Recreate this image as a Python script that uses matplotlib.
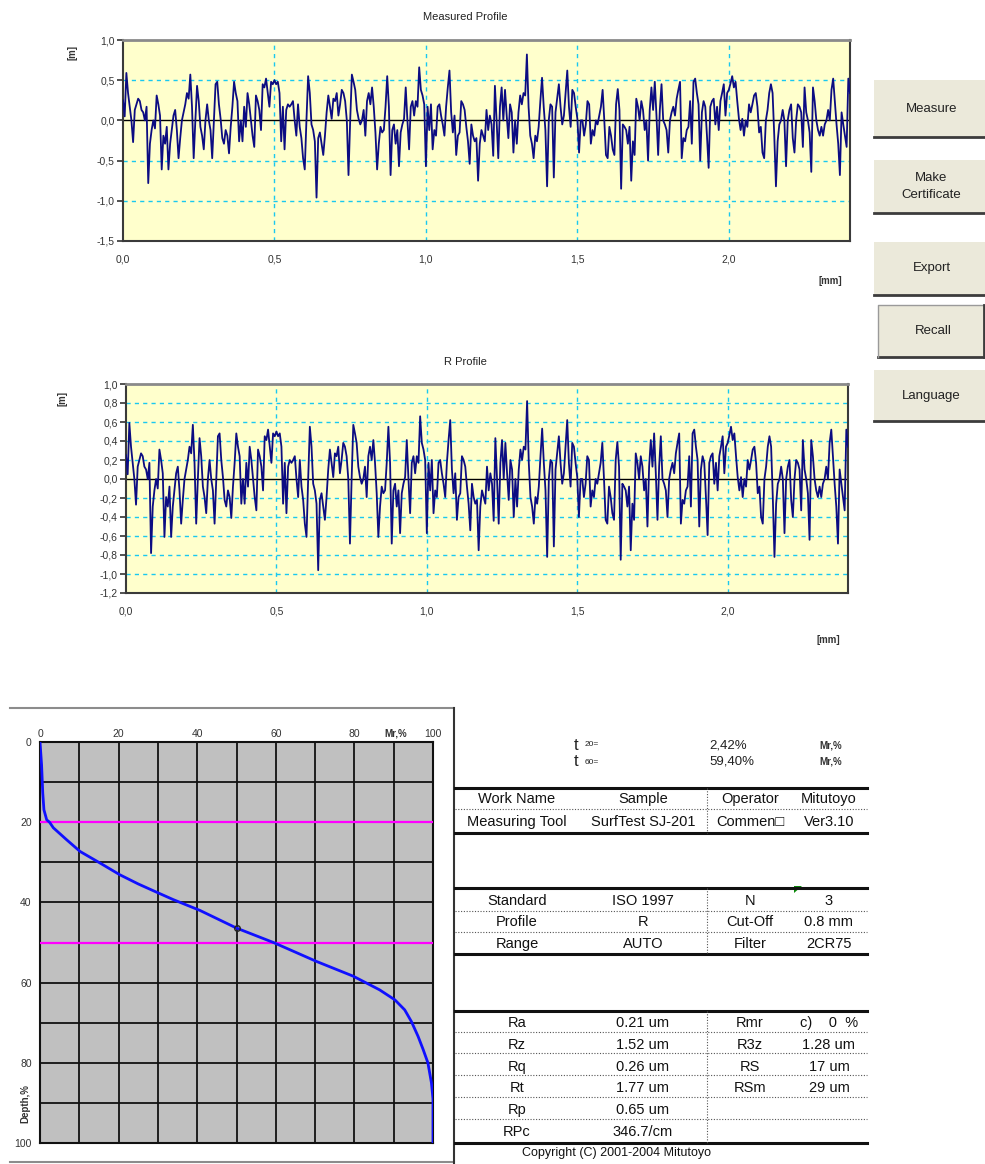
import numpy as np
import matplotlib

matplotlib.use("Agg")
import matplotlib.pyplot as plt
from matplotlib.patches import Rectangle, Polygon
from matplotlib.ticker import FuncFormatter

plt.rcParams["font.family"] = ["Liberation Sans", "DejaVu Sans"]

W, H = 985, 1164

# roughness profile over the 2.4 mm evaluation length (um), evenly spaced
r_profile = [
    # 0.00 - 0.39 mm
    0.25, 0.05, 0.59, 0.34, 0.17, 0.0, -0.27, 0.13, 0.2, 0.27,
    0.24, 0.13, 0.1, 0.0, 0.17, -0.78, -0.29, -0.12, 0.0, -0.1,
    0.31, 0.2, 0.06, -0.61, -0.19, -0.29, -0.08, -0.61, -0.29, -0.12,
    0.06, 0.13, -0.12, -0.47, -0.22, 0.0, 0.1, 0.2, 0.34, 0.27,
    0.57, 0.17, -0.47, 0.0, 0.43, 0.24, -0.08, -0.19, -0.36, 0.0,
    0.2, 0.0, -0.12, -0.47, 0.0, 0.45, 0.48, 0.2, 0.02, -0.22,
    -0.29, -0.12, -0.19, -0.41, -0.08, 0.17, 0.48, 0.34, 0.24, -0.26,
    0.0,
    # 0.39 - 0.79 mm
    -0.26, 0.17, -0.08, 0.34, 0.2, 0.0, -0.19, -0.33, 0.31, 0.24,
    0.13, -0.12, 0.45, 0.41, 0.52, 0.34, 0.17, 0.48, 0.45, 0.5,
    0.45, 0.48, 0.34, -0.26, 0.17, -0.36, 0.13, 0.2, 0.17, 0.2,
    0.24, 0.0, -0.19, 0.2, -0.08, -0.22, -0.47, -0.61, 0.0, 0.55,
    0.34, -0.05, -0.12, -0.26, -0.96, -0.22, -0.15, -0.29, -0.43, -0.19,
    0.1, 0.31, 0.17, 0.02, 0.27, 0.24, 0.34, 0.06, 0.2, 0.38,
    0.34, 0.24, 0.0, -0.68, 0.0, 0.57, 0.48, 0.38, 0.13, 0.02,
    -0.05, 0.0,
    # 0.79 - 1.19 mm
    0.13, -0.19, 0.24, 0.34, 0.2, 0.41, 0.17, -0.15, -0.61, -0.29,
    -0.08, -0.15, -0.12, 0.17, 0.55, 0.17, -0.68, -0.12, -0.05, -0.29,
    -0.12, -0.57, -0.15, -0.05, 0.02, 0.41, 0.0, -0.36, 0.17, 0.24,
    0.06, 0.24, 0.17, 0.66, 0.38, 0.31, 0.2, -0.57, 0.17, -0.12,
    0.2, -0.36, -0.12, -0.19, 0.17, 0.2, 0.06, -0.05, -0.19, 0.17,
    0.41, 0.62, 0.1, -0.15, 0.06, -0.43, -0.19, -0.15, 0.24, 0.2,
    0.13, -0.08, -0.26, -0.54, -0.05, -0.19, -0.26, -0.22, -0.75, -0.29,
    -0.12, -0.19,
    # 1.19 - 1.59 mm
    -0.26, 0.13, -0.12, 0.06, -0.05, -0.44, 0.43, 0.0, -0.47, 0.17,
    0.41, 0.0, 0.38, 0.06, -0.22, 0.2, 0.1, -0.4, 0.0, -0.29,
    0.1, 0.31, 0.2, 0.34, 0.31, 0.82, 0.17, -0.19, -0.29, -0.47,
    -0.19, -0.26, -0.08, 0.24, 0.53, 0.17, -0.12, -0.82, 0.0, 0.2,
    0.17, -0.71, 0.1, 0.27, 0.45, 0.17, -0.05, 0.06, 0.34, 0.62,
    0.17, -0.08, 0.38, 0.34, 0.17, 0.02, -0.4, 0.0, 0.0, -0.19,
    -0.05, 0.24, 0.2, -0.29, -0.12, -0.19, 0.0, -0.05, 0.06, 0.17,
    0.38, 0.0,
    # 1.59 - 1.99 mm
    -0.43, -0.47, -0.08, -0.19, -0.36, -0.43, 0.2, 0.39, 0.13, -0.85,
    -0.05, -0.08, -0.12, -0.29, -0.08, -0.75, -0.26, -0.43, 0.27, 0.17,
    0.0, 0.24, 0.13, -0.12, 0.0, -0.5, 0.13, 0.41, 0.13, 0.48,
    0.06, -0.43, 0.13, 0.45, 0.0, -0.05, -0.12, -0.4, 0.0, 0.1,
    0.17, 0.06, 0.27, 0.38, 0.48, -0.47, -0.22, -0.26, -0.12, -0.08,
    0.24, -0.29, 0.48, 0.52, 0.34, 0.2, -0.5, 0.1, 0.24, 0.17,
    -0.19, -0.59, 0.17, 0.24, 0.27, -0.05, 0.17, -0.12, 0.24, 0.34,
    0.45, 0.06,
    # 1.99 - 2.40 mm
    0.34, 0.38, 0.46, 0.55, 0.41, 0.48, 0.24, 0.02, -0.12, 0.02,
    -0.19, 0.0, -0.08, 0.2, 0.1, 0.2, 0.31, 0.34, 0.17, -0.15,
    -0.08, -0.4, -0.47, 0.0, 0.13, 0.34, 0.45, 0.34, -0.19, -0.82,
    -0.26, -0.05, 0.0, 0.13, 0.0, -0.57, 0.0, 0.13, 0.2, -0.22,
    -0.4, 0.0, 0.2, 0.17, 0.1, -0.33, 0.41, 0.1, 0.0, -0.15,
    -0.64, 0.41, 0.24, 0.0, -0.12, -0.19, -0.08, -0.19, -0.05, 0.0,
    0.13, 0.0, 0.38, 0.52, 0.24, -0.05, -0.29, -0.68, 0.1, -0.05,
    -0.19, -0.33, 0.52, 0.34,
]
# primary profile: the 0.8 mm filter barely changes it at this scale
measured_profile = list(r_profile)
profile_length_mm = 2.4

# bearing (Abbott) curve
depth_pct = [0, 5.7, 12.7, 16.9, 19.4, 20, 21.4, 24.4, 27.3, 30.2, 33.1, 35.4,
             37.6, 39.3, 42, 46.4, 50, 54.7, 58.4, 61.8, 64.3, 66.8, 69.7,
             73.4, 76.7, 80, 85, 89, 100]
mr_pct = [0, 0.4, 0.7, 1.0, 1.7, 2.42, 3.4, 6.8, 10.2, 15.3, 20.3, 25.0,
          30.0, 33.9, 40.7, 50, 59.4, 70.3, 79.7, 86.4, 90.3, 92.8, 94.5,
          96.2, 97.5, 98.7, 99.6, 100, 100]
cut_levels = [20, 50]

buttons = ["Measure", "Make\nCertificate", "Export", "Recall", "Language"]

header_rows = [
    ["Work Name", "Sample", "Operator", "Mitutoyo"],
    ["Measuring Tool", "SurfTest SJ-201", "Commen\u25a1", "Ver3.10"],
]
condition_rows = [
    ["Standard", "ISO 1997", "N", "3"],
    ["Profile", "R", "Cut-Off", "0.8 mm"],
    ["Range", "AUTO", "Filter", "2CR75"],
]
result_rows = [
    ["Ra", "0.21 um", "Rmr", "c)    0  %"],
    ["Rz", "1.52 um", "R3z", "1.28 um"],
    ["Rq", "0.26 um", "RS", "17 um"],
    ["Rt", "1.77 um", "RSm", "29 um"],
    ["Rp", "0.65 um", "", ""],
    ["RPc", "346.7/cm", "", ""],
]


def px_rect(left, top, right, bottom):
    return [left / W, 1 - bottom / H, (right - left) / W, (bottom - top) / H]


comma = FuncFormatter(lambda v, _: f"{v:.1f}".replace(".", ","))
GRID = "#19c8f0"


def profile_axes(rect, values, yticks, title, title_y, unit_xy, mm_xy):
    ax = fig.add_axes(rect)
    ax.set_facecolor("#ffffcc")
    x = np.linspace(0, profile_length_mm, len(values))
    ax.plot(x, values, color="#0c0c82", lw=1.3, zorder=3)
    ax.set_xlim(0, profile_length_mm)
    ax.set_ylim(yticks[0], yticks[-1])
    ax.set_yticks(yticks)
    ax.set_xticks([0, 0.5, 1.0, 1.5, 2.0])
    ax.xaxis.set_major_formatter(comma)
    ax.yaxis.set_major_formatter(comma)
    ax.tick_params(axis="x", length=0, pad=10, labelsize=7.5, colors="#333333")
    ax.tick_params(axis="y", length=4, width=1.2, pad=2, labelsize=7.5, colors="#333333")
    for v in yticks[1:-1]:
        if abs(v) < 1e-9:
            ax.axhline(0, color="black", lw=1.0, zorder=2)
        else:
            ax.axhline(v, color=GRID, lw=1.0, ls=(0, (3, 3)), zorder=1)
    for v in [0.5, 1.0, 1.5, 2.0]:
        ax.axvline(v, color=GRID, lw=1.0, ls=(0, (3, 3)), zorder=1)
    for side in ["left", "bottom", "right"]:
        ax.spines[side].set_color("#3a3a3a")
        ax.spines[side].set_linewidth(1.5)
    ax.spines["top"].set_color("#8a8a8a")
    ax.spines["top"].set_linewidth(2)
    canvas.text(465, title_y, title, ha="center", va="center", fontsize=8, color="#222222")
    canvas.text(unit_xy[0], unit_xy[1], "[m]", ha="center", va="center", rotation=90,
                fontsize=7, fontweight="bold", color="#333333")
    canvas.text(mm_xy[0], mm_xy[1], "[mm]", ha="center", va="center",
                fontsize=7, fontweight="bold", color="#333333")
    return ax


fig = plt.figure(figsize=(W / 100, H / 100), dpi=100)
fig.patch.set_facecolor("white")
canvas = fig.add_axes([0, 0, 1, 1])
canvas.set_xlim(0, W)
canvas.set_ylim(H, 0)
canvas.axis("off")

profile_axes(px_rect(123, 40, 850, 241), measured_profile,
             [-1.5, -1.0, -0.5, 0.0, 0.5, 1.0], "Measured Profile", 17,
             (72, 52), (830, 281))
profile_axes(px_rect(126, 384, 848, 593), r_profile,
             [-1.2, -1.0, -0.8, -0.6, -0.4, -0.2, 0.0, 0.2, 0.4, 0.6, 0.8, 1.0],
             "R Profile", 362, (63, 398), (828, 640))

# side buttons
button_boxes = [(874, 80, 137), (874, 160, 213), (874, 242, 295), (878, 305, 357), (874, 370, 421)]
for label, (left, top, bottom) in zip(buttons, button_boxes):
    canvas.add_patch(Rectangle((left, top), W - left, bottom - top,
                               facecolor="#ebe9da", edgecolor="none"))
    canvas.plot([left, W], [bottom, bottom], color="#3c3c3c", lw=2)
    if label == "Recall":
        canvas.plot([left, left, W - 1, W - 1], [bottom, top, top, bottom], color="#9a9a9a", lw=1)
        canvas.plot([W - 1.5, W - 1.5], [top, bottom], color="#3c3c3c", lw=2)
    canvas.text((left + W) / 2 + 2, (top + bottom) / 2, label, ha="center", va="center",
                fontsize=9.5, color="#222222", linespacing=1.6)

# bearing curve panel
canvas.plot([10, 453], [708, 708], color="#8c8c8c", lw=1.5)
canvas.plot([10, 453], [1162, 1162], color="#8c8c8c", lw=1.5)
canvas.plot([454, 454], [708, 1164], color="#333333", lw=1.5)

ax3 = fig.add_axes(px_rect(40, 742, 433, 1143))
ax3.set_facecolor("#c0c0c0")
ax3.set_xlim(0, 100)
ax3.set_ylim(100, 0)
ax3.xaxis.tick_top()
ax3.set_xticks([0, 20, 40, 60, 80, 100])
ax3.set_yticks([0, 20, 40, 60, 80, 100])
ax3.set_xticks(range(0, 101, 10), minor=True)
ax3.set_yticks(range(0, 101, 10), minor=True)
ax3.grid(which="both", color="#111111", lw=1.3)
ax3.tick_params(which="both", length=0)
ax3.tick_params(axis="x", pad=2, labelsize=7.5, colors="#333333")
ax3.tick_params(axis="y", pad=6, labelsize=7.5, colors="#333333")
for sp in ax3.spines.values():
    sp.set_color("#111111")
    sp.set_linewidth(1.5)
for lvl in cut_levels:
    ax3.axhline(lvl, color="#ff00ff", lw=1.6, zorder=3)
ax3.plot(mr_pct, depth_pct, color="#1010ff", lw=2.0, zorder=4)
ax3.plot([50], [46.5], marker="o", ms=4, mfc="none", mec="#222222", mew=1, zorder=5)
canvas.text(396, 733, "Mr,%", ha="center", va="center", fontsize=7, fontweight="bold", color="#333333")
canvas.text(25, 1104, "Depth,%", ha="center", va="center", rotation=90,
            fontsize=7, fontweight="bold", color="#333333")

# result table
canvas.text(576, 745, "t", ha="center", va="center", fontsize=12, color="#222222")
canvas.text(592, 745, "20=", ha="center", va="center", fontsize=6, color="#222222")
canvas.text(576, 762, "t", ha="center", va="center", fontsize=12, color="#222222")
canvas.text(592, 762, "60=", ha="center", va="center", fontsize=6, color="#222222")
canvas.text(709, 745, "2,42%", ha="left", va="center", fontsize=9.5, color="#222222")
canvas.text(709, 762, "59,40%", ha="left", va="center", fontsize=9.5, color="#222222")
canvas.text(831, 745, "Mr,%", ha="center", va="center", fontsize=7, fontweight="bold", color="#333333")
canvas.text(831, 762, "Mr,%", ha="center", va="center", fontsize=7, fontweight="bold", color="#333333")

for y in [788, 833, 888, 954, 1011, 1143]:
    canvas.plot([455, 867], [y, y], color="#111111", lw=2.2)
for y in [809, 911, 932, 1032, 1053, 1075, 1097, 1119]:
    canvas.plot([455, 867], [y, y], color="#555555", lw=0.8, ls=(0, (1, 1.5)))
for top, bottom in [(788, 833), (888, 954), (1011, 1143)]:
    canvas.plot([707, 707], [top, bottom], color="#555555", lw=0.8, ls=(0, (1, 1.5)))

col_x = [517, 643, 750, 829]
for rows, ys in [(header_rows, [799, 822]),
                 (condition_rows, [901, 922, 944]),
                 (result_rows, [1023, 1045, 1067, 1088, 1110, 1132])]:
    for row, y in zip(rows, ys):
        for cx, cell in zip(col_x, row):
            canvas.text(cx, y, cell, ha="center", va="center", fontsize=10.5, color="#111111")

canvas.add_patch(Polygon([[794, 886], [802, 886], [794, 893]], closed=True, facecolor="#0a8a0a"))
canvas.text(616, 1153, "Copyright (C) 2001-2004 Mitutoyo", ha="center", va="center",
            fontsize=9, color="#111111")

fig.savefig("out.png", dpi=100)
